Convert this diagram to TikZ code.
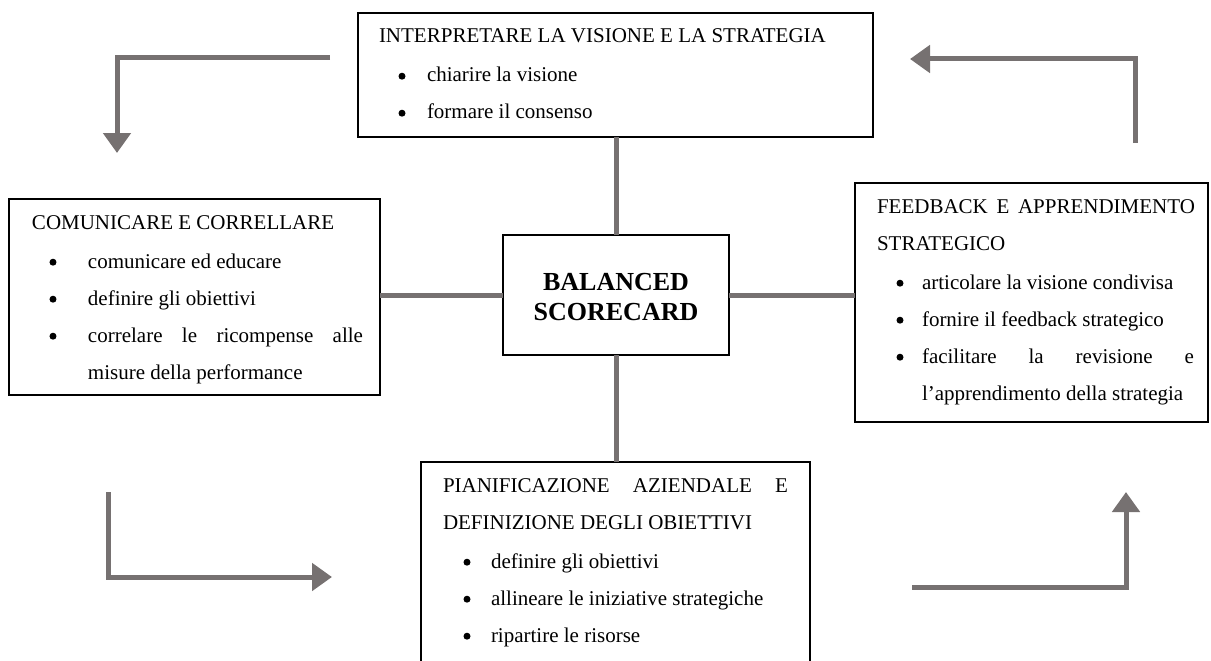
\documentclass[tikz,border=0pt]{standalone}
\usepackage{fontspec}
\setmainfont{Liberation Serif}
\usetikzlibrary{arrows.meta}
\definecolor{conngray}{HTML}{767171}
\tikzset{
  box/.style={draw=black, line width=2pt, inner sep=0pt, outer sep=0pt, anchor=north west, fill=white},
  conn/.style={draw=conngray, line width=5pt},
  arr/.style={draw=conngray, line width=5pt, -{Triangle[length=20pt,width=27pt]}}
}
\newcommand{\bxtext}[3]{\parbox[c][#2][t]{#1}{\fontsize{21}{37}\selectfont #3}}
\newcommand{\bigdot}{\tikz[baseline=0pt]\fill[black] (0pt,5.8pt) circle (3.5pt);}
\newcommand{\bul}[2]{\hspace*{#1}\makebox[0pt]{\bigdot}\hspace*{\dimexpr#2-#1\relax}}
\begin{document}
\begin{tikzpicture}[x=1pt,y=-1pt]
\useasboundingbox (0,0) rectangle (1211,661);

% boxes
\node[box] (top) at (358,13) {\bxtext{515pt}{124pt}{%
\rule{0pt}{30pt}\hspace*{21pt}INTERPRETARE LA VISIONE E LA STRATEGIA\\[2pt]
\bul{44pt}{69pt}chiarire la visione\\
\bul{44pt}{69pt}formare il consenso}};

\node[box] (left) at (9,199) {\bxtext{371pt}{196pt}{%
\rule{0pt}{30pt}\hspace*{23pt}COMUNICARE E CORRELLARE\\[2pt]
\bul{44pt}{79pt}comunicare ed educare\\
\bul{44pt}{79pt}definire gli obiettivi\\
\bul{44pt}{79pt}\makebox[275pt][s]{correlare le ricompense alle}\\
\hspace*{79pt}misure della performance}};

\node[box] (right) at (855,183) {\bxtext{353pt}{239pt}{%
\rule{0pt}{30pt}\hspace*{22pt}\makebox[318pt][s]{FEEDBACK E APPRENDIMENTO}\\
\hspace*{22pt}STRATEGICO\\[2pt]
\bul{45pt}{67pt}articolare la visione condivisa\\
\bul{45pt}{67pt}fornire il feedback strategico\\
\bul{45pt}{67pt}\makebox[272pt][s]{facilitare la revisione e}\\
\hspace*{67pt}l’apprendimento della strategia}};

\node[box] (bot) at (421,462) {\bxtext{389pt}{212pt}{%
\rule{0pt}{30pt}\hspace*{22pt}\makebox[345pt][s]{PIANIFICAZIONE AZIENDALE E}\\
\hspace*{22pt}DEFINIZIONE DEGLI OBIETTIVI\\[2pt]
\bul{46pt}{70pt}definire gli obiettivi\\
\bul{46pt}{70pt}allineare le iniziative strategiche\\
\bul{46pt}{70pt}ripartire le risorse}};

\node[box, line width=2.4pt] (center) at (503,235) {\parbox[c][120pt][t]{226pt}{\centering\fontsize{26}{30}\selectfont\bfseries
\rule{0pt}{55pt}BALANCED\\SCORECARD}};

% connectors
\draw[conn] (center.north) -- (center.north |- top.south);
\draw[conn] (center.south) -- (center.south |- bot.north);
\draw[conn] (center.west) -- (center.west -| left.east);
\draw[conn] (center.east) -- (center.east -| right.west);

% cycle arrows
\coordinate (a1s) at (330,58);  \coordinate (a1e) at (117,153);
\coordinate (a2s) at (1135,143); \coordinate (a2e) at (910,59);
\coordinate (a3s) at (108,492); \coordinate (a3e) at (332,577);
\coordinate (a4s) at (912,587); \coordinate (a4e) at (1126,492);
\draw[arr] (a1s) -| (a1e);
\draw[arr] (a2s) |- (a2e);
\draw[arr] (a3s) |- (a3e);
\draw[arr] (a4s) -| (a4e);
\end{tikzpicture}
\end{document}
